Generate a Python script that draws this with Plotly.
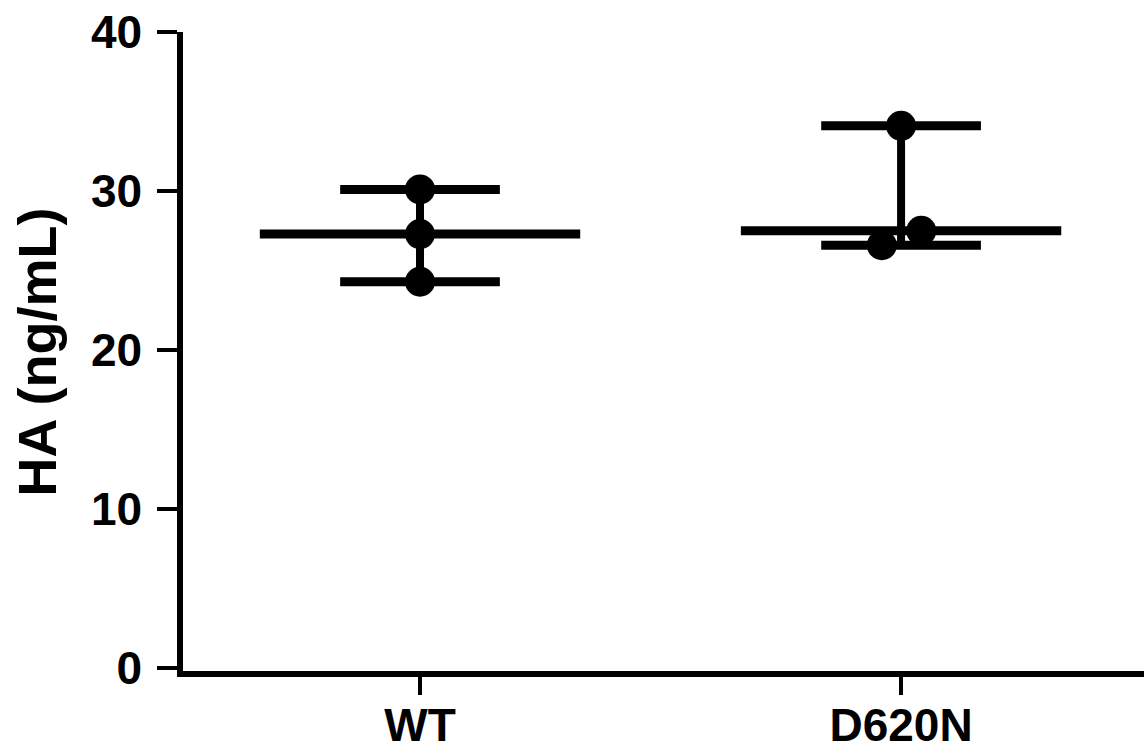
import numpy as np
import plotly.graph_objects as go

# ---- data ----
categories = ["WT", "D620N"]
wt_values = [30.1, 27.3, 24.3]
d620n_values = [34.1, 26.6, 27.5]
y_ticks = [0, 10, 20, 30, 40]
y_title = "HA (ng/mL)"

# ---- style ----
jitter = [[0.0, 0.0, 0.0], [0.0, -0.04, 0.042]]
median_half = 0.333
cap_half = 0.166
font_family = "Liberation Sans, Arial, sans-serif"

groups = [wt_values, d620n_values]

fig = go.Figure()
for i, vals in enumerate(groups):
    v = np.array(vals)
    med = float(np.median(v))
    lo, hi = float(v.min()), float(v.max())
    # vertical range line
    fig.add_trace(go.Scatter(x=[i, i], y=[lo, hi], mode="lines",
                             line=dict(color="black", width=8), showlegend=False, hoverinfo="skip"))
    # caps at min and max
    for yv in (lo, hi):
        fig.add_trace(go.Scatter(x=[i - cap_half, i + cap_half], y=[yv, yv], mode="lines",
                                 line=dict(color="black", width=9), showlegend=False, hoverinfo="skip"))
    # median line
    fig.add_trace(go.Scatter(x=[i - median_half, i + median_half], y=[med, med], mode="lines",
                             line=dict(color="black", width=9), showlegend=False, hoverinfo="skip"))
    # points
    fig.add_trace(go.Scatter(x=[i + j for j in jitter[i]], y=vals, mode="markers",
                             marker=dict(color="black", size=30), showlegend=False,
                             name=categories[i]))

fig.update_layout(
    width=1144, height=750,
    margin=dict(l=183, r=0, t=32, b=79, autoexpand=False),
    paper_bgcolor="white", plot_bgcolor="white",
    font=dict(family=font_family, color="black", size=46, weight="bold"),
    xaxis=dict(range=[-0.4927, 1.505], tickvals=list(range(len(categories))), ticktext=categories,
               showline=True, linecolor="black", linewidth=5.5, ticks="outside",
               ticklen=18, tickwidth=4, tickcolor="black", showgrid=False, zeroline=False,
               automargin=False, ticklabelstandoff=-9,
               tickfont=dict(size=46, family=font_family, weight="bold")),
    yaxis=dict(range=[-0.17, 40], tickvals=y_ticks, showline=True, linecolor="black",
               linewidth=5.5, ticks="outside", ticklen=20, tickwidth=4, tickcolor="black",
               showgrid=False, zeroline=False, ticklabelstandoff=6, automargin=False,
               tickfont=dict(size=46, family=font_family, weight="bold")),
    annotations=[dict(text=y_title, textangle=-90, xref="paper", yref="paper",
                      x=-0.152, y=0.5, xanchor="center", yanchor="middle", showarrow=False,
                      font=dict(size=54, family=font_family, weight="bold", color="black"))],
)

fig.write_html("out.html", config={"displayModeBar": False},
               post_script="document.body.style.margin='0';document.body.style.overflow='hidden';")
